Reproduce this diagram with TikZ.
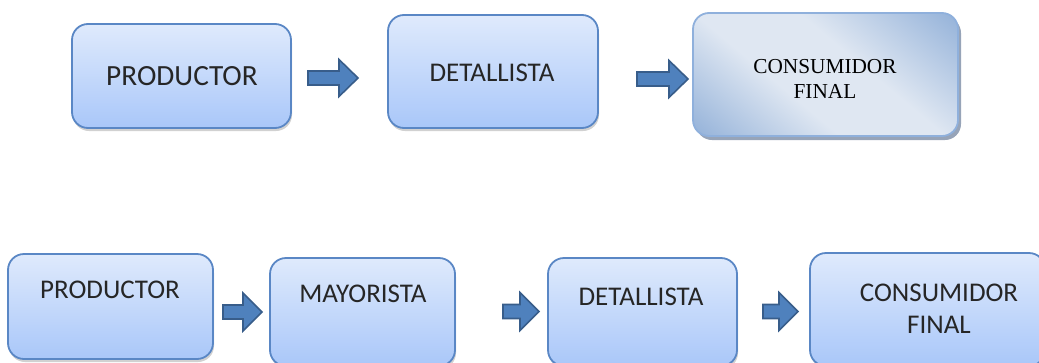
\documentclass[tikz,border=0pt]{standalone}
\usepackage{fontspec}
\setmainfont{Carlito}
\newfontfamily\serifface{Liberation Serif}
\usetikzlibrary{shadows}
\definecolor{boxtop}{HTML}{DFEAFC}
\definecolor{boxbot}{HTML}{A9C7F9}
\definecolor{boxline}{HTML}{5A87C5}
\definecolor{arrfill}{HTML}{4F81BD}
\definecolor{arrline}{HTML}{385D8A}
\definecolor{glossdark}{HTML}{97B4DA}
\definecolor{glosslight}{HTML}{DFE7F2}
\definecolor{glossline}{HTML}{8FB0DC}
\definecolor{glossshadow}{HTML}{7D8DA6}
% diagonal sheen: dark corners, pale band through the middle
\pgfdeclarehorizontalshading{sheen}{100bp}{%
  color(0bp)=(glossdark); color(16bp)=(glossdark); color(40bp)=(glosslight);
  color(58bp)=(glosslight); color(84bp)=(glossdark); color(100bp)=(glossdark)}
\tikzset{
  stagebox/.style={draw=boxline, line width=1.8pt, rounded corners=16pt,
    top color=boxtop, bottom color=boxbot,
    drop shadow={shadow xshift=1pt, shadow yshift=-3pt, fill=black, opacity=0.18}},
  glossbox/.style={draw=glossline, line width=1.8pt, rounded corners=16pt,
    shading=sheen, shading angle=50,
    drop shadow={shadow xshift=3pt, shadow yshift=-4pt, fill=glossshadow, opacity=0.8}},
  lbl/.style={font=\fontsize{27}{32}\selectfont, text=black!85},
  serlbl/.style={font=\serifface\fontsize{21.3}{25}\selectfont, align=center, text=black},
  blockarr/.style={fill=arrfill, draw=arrline, line width=1.6pt, line join=miter}
}
% block arrow: left x, right x, centre y, half head height
\newcommand\blockarrowat[4]{%
  \draw[blockarr] (#1,#3-7) -- (#2-19,#3-7) -- (#2-19,#3-#4) -- (#2,#3)
    -- (#2-19,#3+#4) -- (#2-19,#3+7) -- (#1,#3+7) -- cycle;}
\begin{document}
\begin{tikzpicture}[x=1pt,y=-1pt]
\useasboundingbox (0,0) rectangle (1039,362);
\begin{scope}
\clip (0,0) rectangle (1039,362);
% upper chain
\draw[stagebox] (72,24) rectangle (291,128);
\node[lbl, font=\fontsize{29.3}{34}\selectfont] (pa) at (182,76) {PRODUCTOR};
\draw[stagebox] (388,15) rectangle (598,128);
\node[lbl] (da) at (492,73) {DETALLISTA};
\draw[glossbox] (693,13) rectangle (958,136);
\node[serlbl] (ca) at (825,79) {CONSUMIDOR\\FINAL};
\blockarrowat{308}{358}{78}{18.5}
\blockarrowat{637}{688}{79}{18.5}
% lower chain
\draw[stagebox] (8,254) rectangle (213,359);
\node[lbl] (pb) at (110,290) {PRODUCTOR};
\draw[stagebox] (270,258) rectangle (455,366);
\node[lbl] (mb) at (363,294) {MAYORISTA};
\draw[stagebox] (548,258) rectangle (737,366);
\node[lbl] (db) at (641,297) {DETALLISTA};
\draw[stagebox] (810,253) rectangle (1045,366);
\node[lbl, align=center] (cb) at (939,309) {CONSUMIDOR\\FINAL};
\blockarrowat{223}{262}{312}{19}
\blockarrowat{503}{539}{311.5}{19}
\blockarrowat{763}{798}{311.5}{19}
\end{scope}
\end{tikzpicture}
\end{document}
